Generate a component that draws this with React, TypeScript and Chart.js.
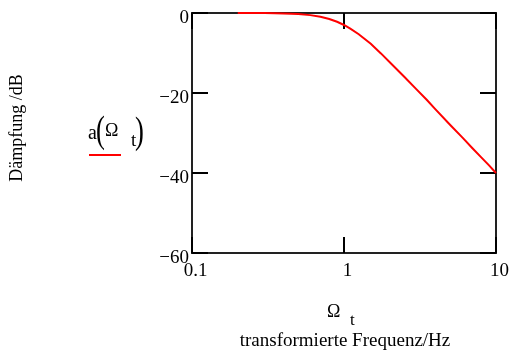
import React, { useEffect, useRef } from "react";
import { Chart, registerables } from "chart.js";

Chart.register(...registerables);

// Normalised frequency Ω_t and attenuation a(Ω_t) in dB
const OMEGA = [0.2, 0.25, 0.3, 0.35, 0.4, 0.45, 0.5, 0.6, 0.7, 0.8, 0.9, 1.0, 1.1, 1.25, 1.5, 1.75, 2.0, 2.5, 3.0, 3.5, 4.0, 5.0, 6.0, 7.0, 8.0, 9.0, 10.0];
const DAMPING_DB = [0, -0.01, -0.03, -0.06, -0.11, -0.17, -0.26, -0.53, -0.94, -1.5, -2.2, -3.0, -3.9, -5.3, -7.7, -10.1, -12.3, -16.0, -19.1, -21.7, -24.1, -28.0, -31.1, -33.8, -36.1, -38.1, -40.0];

const X_TICKS = [0.1, 1, 10];
const X_TICK_LABELS = ["0.1", "1", "10"];
const Y_TICKS = [0, -20, -40, -60];
const Y_TICK_LABELS = ["0", "\u221220", "\u221240", "\u221260"];

const SERIF = '"Liberation Serif", "Times New Roman", serif';

const framePlugin = {
  id: "mathcadFrame",
  beforeDatasetsDraw(chart: any) {
    const { ctx, chartArea: a, scales } = chart;
    const xs = scales.x;
    const ys = scales.y;
    const tick = 16;
    ctx.save();
    // frame
    ctx.strokeStyle = "#222";
    ctx.lineWidth = 2;
    ctx.strokeRect(a.left, a.top, a.right - a.left, a.bottom - a.top);
    // inner ticks on all four sides
    ctx.strokeStyle = "#000";
    ctx.lineWidth = 2;
    ctx.beginPath();
    for (const v of Y_TICKS) {
      const y = ys.getPixelForValue(v);
      ctx.moveTo(a.left, y);
      ctx.lineTo(a.left + tick, y);
      ctx.moveTo(a.right, y);
      ctx.lineTo(a.right - tick, y);
    }
    for (const v of X_TICKS) {
      const x = xs.getPixelForValue(v);
      ctx.moveTo(x, a.bottom);
      ctx.lineTo(x, a.bottom - tick);
      ctx.moveTo(x, a.top);
      ctx.lineTo(x, a.top + tick);
    }
    ctx.stroke();
    ctx.restore();
  },
  afterDraw(chart: any) {
    const { ctx, chartArea: a, scales } = chart;
    const xs = scales.x;
    const ys = scales.y;
    ctx.save();
    ctx.fillStyle = "#000";
    ctx.font = `19px ${SERIF}`;
    // y tick labels
    ctx.textAlign = "right";
    ctx.textBaseline = "middle";
    Y_TICKS.forEach((v, i) => {
      ctx.fillText(Y_TICK_LABELS[i], a.left - 3, ys.getPixelForValue(v) + 5);
    });
    // x tick labels
    ctx.textAlign = "center";
    X_TICKS.forEach((v, i) => {
      ctx.fillText(X_TICK_LABELS[i], xs.getPixelForValue(v) + 3.5, a.bottom + 18);
    });

    // y axis title
    ctx.save();
    ctx.translate(22, 128);
    ctx.rotate(-Math.PI / 2);
    ctx.font = `18px ${SERIF}`;
    ctx.textAlign = "center";
    ctx.textBaseline = "alphabetic";
    ctx.fillText("Dämpfung /dB", 0, 0);
    ctx.restore();

    // x axis title
    const cx = (a.left + a.right) / 2;
    ctx.textBaseline = "alphabetic";
    ctx.textAlign = "left";
    ctx.font = `18px ${SERIF}`;
    ctx.fillText("Ω", cx - 17, 317);
    ctx.font = `17px ${SERIF}`;
    ctx.fillText("t", cx + 6, 325);
    ctx.textAlign = "center";
    ctx.font = `19px ${SERIF}`;
    ctx.fillText("transformierte Frequenz/Hz", cx + 1, 346);

    // legend entry a(Ω t)
    ctx.textAlign = "left";
    ctx.font = `20px ${SERIF}`;
    ctx.fillText("a", 88, 139);
    ctx.font = `18px ${SERIF}`;
    ctx.fillText("Ω", 105, 136);
    ctx.font = `19px ${SERIF}`;
    ctx.fillText("t", 131, 146);
    ctx.font = `38px ${SERIF}`;
    ctx.save();
    ctx.translate(96, 142);
    ctx.scale(0.7, 1);
    ctx.fillText("(", 0, 0);
    ctx.restore();
    ctx.save();
    ctx.translate(135, 143);
    ctx.scale(0.7, 1);
    ctx.fillText(")", 0, 0);
    ctx.restore();
    ctx.strokeStyle = "#ff0000";
    ctx.lineWidth = 2;
    ctx.beginPath();
    ctx.moveTo(89, 155);
    ctx.lineTo(121, 155);
    ctx.stroke();
    ctx.restore();
  },
};

export default function App() {
  const canvasRef = useRef<HTMLCanvasElement | null>(null);

  useEffect(() => {
    if (!canvasRef.current) return;
    const chart = new Chart(canvasRef.current, {
      type: "line",
      data: {
        datasets: [
          {
            label: "a(Ω t)",
            data: OMEGA.map((x, i) => ({ x, y: DAMPING_DB[i] })),
            borderColor: "#ff0000",
            borderWidth: 2,
            pointRadius: 0,
            tension: 0,
            fill: false,
            clip: false as any,
          },
        ],
      },
      options: {
        animation: false,
        responsive: true,
        maintainAspectRatio: false,
        layout: { padding: { left: 192, right: 15, top: 13, bottom: 99 } },
        plugins: { legend: { display: false }, tooltip: { enabled: false } },
        scales: {
          x: { type: "logarithmic", min: 0.1, max: 10, display: false },
          y: { type: "linear", min: -60, max: 0, display: false },
        },
      },
      plugins: [framePlugin],
    });
    return () => chart.destroy();
  }, []);

  return (
    <div style={{ position: "fixed", left: 0, top: 0, width: 511, height: 352, background: "#fff" }}>
      <canvas ref={canvasRef} />
    </div>
  );
}
